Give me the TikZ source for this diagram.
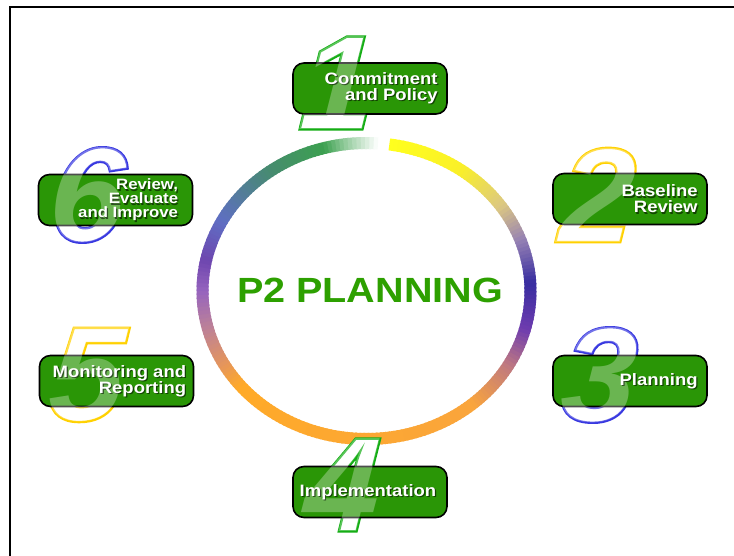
\documentclass[tikz,border=0pt]{standalone}
\usepackage{fontspec}
\setmainfont{Liberation Sans}
\newfontfamily\labelfont{Liberation Sans}[FakeStretch=1.12]
\newfontfamily\digitfont{Liberation Sans}[FakeSlant=0.06]
\newfontfamily\titlefont{Liberation Sans}[FakeStretch=1.13]
\definecolor{boxgreen}{RGB}{42,150,6}
\definecolor{titlegreen}{RGB}{45,160,0}
\definecolor{r1}{RGB}{255,255,30}
\definecolor{r2}{RGB}{250,240,40}
\definecolor{r3}{RGB}{220,200,130}
\definecolor{r4}{RGB}{150,130,180}
\definecolor{r5}{RGB}{55,45,160}
\definecolor{r6}{RGB}{110,60,175}
\definecolor{r7}{RGB}{190,120,130}
\definecolor{r8}{RGB}{250,165,60}
\definecolor{r9}{RGB}{255,170,40}
\definecolor{r10}{RGB}{230,150,90}
\definecolor{r11}{RGB}{190,130,150}
\definecolor{r12}{RGB}{150,100,190}
\definecolor{r13}{RGB}{110,70,175}
\definecolor{r14}{RGB}{95,110,195}
\definecolor{r15}{RGB}{70,140,110}
\definecolor{r16}{RGB}{60,160,80}
\definecolor{r17}{RGB}{140,200,150}
\definecolor{r18}{RGB}{255,255,255}
\newcommand\outdigit[4]{%
  \node[digit, text=white] (#1) at (#2) {\special{pdf:literal direct #4 RG 2.4 w 2 Tr}#3\special{pdf:literal direct 0 Tr}};}
\newcommand\lightdigit[3]{%
  \node[digit, text=white, text opacity=0.3] (#1) at (#2) {#3};}
\tikzset{
  stepbox/.style={draw=black, line width=1.6, rounded corners=11, fill=boxgreen,
    minimum width=154, minimum height=51, inner sep=0},
  digit/.style={inner sep=0, font=\fontsize{135}{135}\selectfont\digitfont\bfseries\itshape},
  lbl/.style={text=white, align=right, inner sep=0, font=\fontsize{16.5}{16}\selectfont\labelfont\bfseries},
  lblsix/.style={lbl, font=\fontsize{15}{14}\selectfont\labelfont\bfseries},
  shade/.style={text=black, text opacity=0.55},
  ringseg/.style={line width=12, line cap=butt}
}
\begin{document}
\begin{tikzpicture}[x=1pt, y=-1pt]
\useasboundingbox (0,0) rectangle (734,556);
\fill[white] (0,0) rectangle (734,556);
% frame
\draw[line width=2.5] (10,556) -- (10,7) -- (734,7);
% ring
\foreach \a/\b/\ca/\cb in {82/55/r1/r2, 55/35/r2/r3, 35/20/r3/r4, 20/3/r4/r5, 3/-15/r5/r6,
  -15/-30/r6/r7, -30/-50/r7/r8, -50/-140/r8/r9, -140/-150/r9/r10, -150/-165/r10/r11,
  -165/-180/r11/r12, -180/-192/r12/r13, -192/-208/r13/r14, -208/-235/r14/r15,
  -235/-255/r15/r16, -255/-262/r16/r17, -262/-274/r17/r18}{
  \pgfmathtruncatemacro{\n}{ceil((\a-\b)/1.5)}
  \foreach \i in {1,...,\n}{
    \pgfmathsetmacro{\sa}{\a-(\i-1)*(\a-\b)/\n}
    \pgfmathsetmacro{\sb}{max(\a-\i*(\a-\b)/\n-0.6,-274)}
    \pgfmathtruncatemacro{\p}{100-100*(\i-0.5)/\n}
    \draw[ringseg, draw=\ca!\p!\cb] plot[domain=\sa:\sb, samples=3] ({366.5+164*cos(\x)}, {291-148*sin(\x)});
  }
}
\node[inner sep=0, text=titlegreen, font=\fontsize{35}{35}\selectfont\titlefont\bfseries] (title) at (370,290) {P2 PLANNING};
% digits (outlined)
\outdigit{d1}{335,83}{1}{0.08 0.68 0.08}
\outdigit{d2}{595,195}{2}{1 0.82 0}
\outdigit{d3}{597,375}{3}{0.22 0.22 0.88}
\outdigit{d4}{340,485}{4}{0.08 0.68 0.08}
\outdigit{d5}{85,375}{5}{1 0.82 0}
\outdigit{d6}{85,195}{6}{0.22 0.22 0.88}
% boxes
\node[stepbox] (b1) at (370,88.5) {};
\node[stepbox] (b2) at (630,199) {};
\node[stepbox] (b3) at (630,381) {};
\node[stepbox] (b4) at (370,492) {};
\node[stepbox] (b5) at (116.5,381) {};
\node[stepbox] (b6) at (115.5,200) {};
% light digits inside boxes
\lightdigit{o1}{335,83}{1}
\lightdigit{o2}{595,195}{2}
\lightdigit{o3}{597,375}{3}
\lightdigit{o4}{340,485}{4}
\lightdigit{o5}{85,375}{5}
\lightdigit{o6}{85,195}{6}
% labels with shadows
\node[lbl, shade, anchor=east] (s1) at ([xshift=-8.8pt, yshift=-1.2pt]b1.east) {Commitment\\and Policy};
\node[lbl, anchor=east] (l1) at ([xshift=-10pt]b1.east) {Commitment\\and Policy};
\node[lbl, shade, anchor=east] (s2) at ([xshift=-8.8pt, yshift=-1.2pt]b2.east) {Baseline\\Review};
\node[lbl, anchor=east] (l2) at ([xshift=-10pt]b2.east) {Baseline\\Review};
\node[lbl, shade, anchor=east] (s3) at ([xshift=-8.8pt, yshift=-1.2pt]b3.east) {Planning};
\node[lbl, anchor=east] (l3) at ([xshift=-10pt]b3.east) {Planning};
\node[lbl, shade] (s4) at ([xshift=-0.8pt, yshift=-1.2pt]b4.center) {Implementation};
\node[lbl] (l4) at ([xshift=-2pt]b4.center) {Implementation};
\node[lbl, shade, anchor=east] (s5) at ([xshift=-6.8pt, yshift=-1.2pt]b5.east) {Monitoring and\\Reporting};
\node[lbl, anchor=east] (l5) at ([xshift=-8pt]b5.east) {Monitoring and\\Reporting};
\node[lblsix, shade, anchor=east] (s6) at ([xshift=-13.8pt, yshift=-1.2pt]b6.east) {Review,\\Evaluate\\and Improve};
\node[lblsix, anchor=east] (l6) at ([xshift=-15pt]b6.east) {Review,\\Evaluate\\and Improve};
\end{tikzpicture}
\end{document}
